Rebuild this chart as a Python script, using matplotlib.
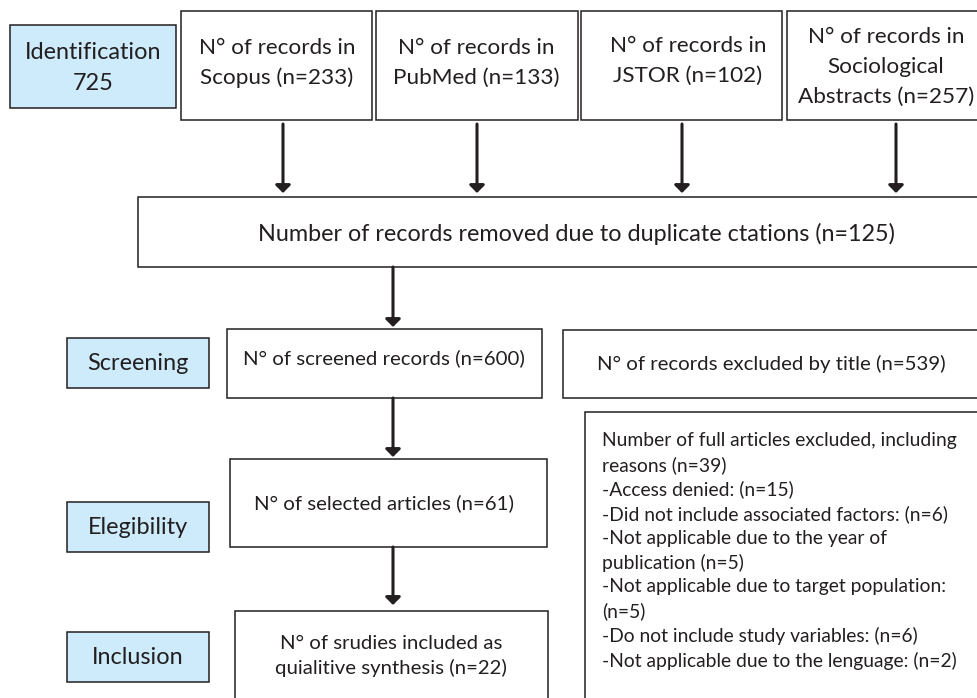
import matplotlib.pyplot as plt
from matplotlib.patches import Rectangle, FancyArrowPatch

# --- data ---
stages = ["Identification\n725", "Screening", "Elegibility", "Inclusion"]
sources = ["Scopus", "PubMed", "JSTOR", "Sociological\nAbstracts"]
source_counts = [233, 133, 102, 257]
duplicates = 125
screened = 600
excluded_title = 539
selected = 61
full_excluded = 39
included = 22
reasons = ["Access denied:", "Did not include associated factors:",
           "Not applicable due to the year of\npublication",
           "Not applicable due to target population:\n",
           "Do not include study variables:",
           "Not applicable due to the lenguage:"]
reason_counts = [15, 6, 5, 5, 6, 2]

plt.rcParams['font.family'] = ['Lato', 'DejaVu Sans']
EDGE = '#231f20'
BLUE = '#cdebfb'

fig = plt.figure(figsize=(9.77, 6.98), dpi=100)
ax = fig.add_axes([0, 0, 1, 1])
ax.set_xlim(0, 977)
ax.set_ylim(698, 0)
ax.axis('off')


def box(x0, y0, x1, y1, fc='white'):
    ax.add_patch(Rectangle((x0, y0), x1 - x0, y1 - y0, fc=fc, ec=EDGE, lw=1.1, clip_on=True))


def arrow(x, y0, y1):
    ax.add_patch(FancyArrowPatch((x, y0), (x, y1), arrowstyle='-|>,head_length=0.45,head_width=0.45',
                                 mutation_scale=10, color=EDGE, lw=2.2, shrinkA=0, shrinkB=0))


def label(x, y, s, size=14.7, ls=1.25, **kw):
    ax.text(x, y, s, ha='center', va='center', fontsize=size, linespacing=ls, color=EDGE, **kw)


# stage labels
stage_boxes = [(10, 25, 176, 108), (67, 338, 209, 388), (67, 502, 209, 552), (67, 632, 209, 682)]
stage_text_y = [68, 363, 528, 657]
for s, (x0, y0, x1, y1), ty in zip(stages, stage_boxes, stage_text_y):
    box(x0, y0, x1, y1, fc=BLUE)
    label((x0 + x1) / 2, ty, s, size=16.9, ls=1.6)

# source boxes
src_boxes = [(181, 11, 372, 120), (376, 11, 578, 120), (581, 11, 782, 120), (787, 11, 1000, 120)]
src_text = [(277, 63), (476, 63), (688, 61), (886, 67)]
arrow_x = [283, 477, 682, 896]
for name, n, (x0, y0, x1, y1), (tx, ty), axx in zip(sources, source_counts, src_boxes, src_text, arrow_x):
    box(x0, y0, x1, y1)
    label(tx, ty, f"N° of records in\n{name} (n={n})", size=16.2, ls=1.6)
    arrow(axx, 124, 193)

# duplicates
box(138, 197, 1000, 267)
label(576, 234, f"Number of records removed due to duplicate ctations (n={duplicates})", size=16.8)
arrow(393, 267, 327)

# screening
box(227, 329, 542, 398)
label(384, 358, f"N° of screened records (n={screened})")
box(563, 330, 1000, 398)
label(771, 364, f"N° of records excluded by title (n={excluded_title})")
arrow(393, 398, 457)

# eligibility
box(230, 459, 547, 547)
label(384, 503, f"N° of selected articles (n={selected})")
lines = [f"Number of full articles excluded, including\nreasons (n={full_excluded})"]
for r, c in zip(reasons, reason_counts):
    sep = "" if r.endswith("\n") else " "
    lines.append(f"-{r}{sep}(n={c})")
box(585, 412, 1000, 720)
ax.text(602, 432, "\n".join(lines), ha='left', va='top', fontsize=13.9, linespacing=1.46, color=EDGE)
arrow(393, 547, 605)

# inclusion
box(235, 611, 548, 720)
label(391, 656, f"N° of srudies included as\nquialitive synthesis (n={included})", ls=1.5)

fig.savefig('out.png', dpi=100)
